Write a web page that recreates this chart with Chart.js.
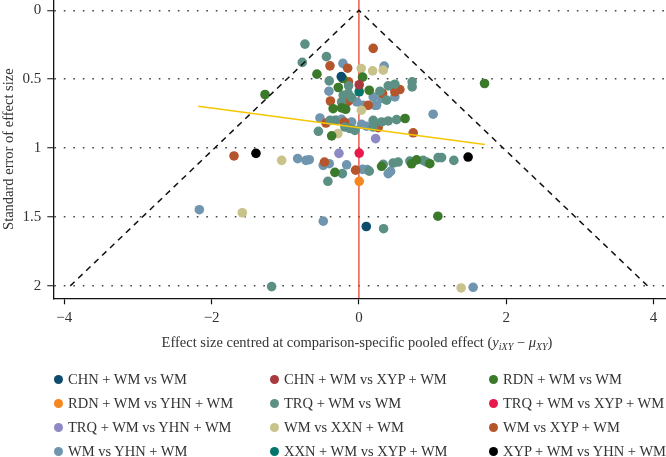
<!DOCTYPE html>
<html>
<head>
<meta charset="utf-8">
<script src="https://cdn.jsdelivr.net/npm/chart.js@4.4.0/dist/chart.umd.min.js"></script>
<style>
  body { margin: 0; background: #fff; }
  #wrap { position: relative; width: 666px; height: 457px; font-family: "Liberation Serif", "DejaVu Serif", serif; color: #333; }
  #xtitle { position: absolute; left: 357px; top: 333px; transform: translateX(-50%); white-space: nowrap; font-size: 14.5px; line-height: 18px; }
  #xtitle sub { font-size: 10px; vertical-align: -3px; }
  .lg { position: absolute; font-size: 14.5px; line-height: 18px; white-space: nowrap; }
  .lg span { display: inline-block; width: 9px; height: 9px; border-radius: 50%; margin-right: 5.5px; vertical-align: 0; }
</style>
</head>
<body>
<div id="wrap">
  <canvas id="funnel" width="666" height="457"></canvas>
  <div id="xtitle">Effect size centred at comparison-specific pooled effect (<i>y</i><sub><i>iXY</i></sub> − <i>μ</i><sub><i>XY</i></sub>)</div>
  <div id="legend"></div>
</div>
<script>
// Comparison-adjusted funnel plot

const xTicks = [-4, -2, 0, 2, 4];
const yTicks = [0, 0.5, 1, 1.5, 2];

const names = [
  'CHN + WM vs WM', 'CHN + WM vs XYP + WM', 'RDN + WM vs WM',
  'RDN + WM vs YHN + WM', 'TRQ + WM vs WM', 'TRQ + WM vs XYP + WM',
  'TRQ + WM vs YHN + WM', 'WM vs XXN + WM', 'WM vs XYP + WM',
  'WM vs YHN + WM', 'XXN + WM vs XYP + WM', 'XYP + WM vs YHN + WM'
];
const colors = [
  '#0e4c6e', '#a9393f', '#3b7a2a',
  '#f6861f', '#5d9085', '#e9194b',
  '#8d89c5', '#c9c28a', '#b5552c',
  '#6f96ae', '#02756c', '#000000'
];

// [centred effect size, standard error]
const chnWm    = [[-0.24, 0.481], [0.10, 1.569]];
const chnXyp   = [[0.004, 0.540]];
const rdnWm    = [[-0.57, 0.463], [-1.275, 0.611], [-0.22, 0.495], [0.05, 0.485], [-0.28, 0.560],
                  [0.14, 0.580], [-0.35, 0.714], [-0.235, 0.708], [-0.18, 0.718], [0.627, 0.785],
                  [-0.37, 0.911], [1.706, 0.531], [-0.326, 1.176], [0.308, 1.132], [0.715, 1.114],
                  [0.783, 1.085], [0.963, 1.113], [1.072, 1.494]];
const rdnYhn   = [[0.004, 1.241]];
const trqWm    = [[-0.733, 0.245], [-0.441, 0.336], [-0.769, 0.378], [-0.403, 0.512], [-0.14, 0.548],
                  [-0.145, 0.604], [-0.213, 0.616], [0.398, 0.548], [0.488, 0.536], [0.723, 0.519],
                  [0.723, 0.556], [0.285, 0.587], [0.376, 0.652], [-0.235, 0.665], [-0.099, 0.633],
                  [0.194, 0.798], [0.308, 0.810], [0.398, 0.803], [0.512, 0.793], [-0.19, 0.847],
                  [-0.122, 0.858], [-0.054, 0.871], [-0.393, 0.798], [-0.326, 0.798], [0.194, 0.847],
                  [-0.55, 0.878], [-0.224, 1.185], [-0.421, 1.241], [0.14, 1.167], [0.33, 1.118],
                  [0.465, 1.108], [0.533, 1.101], [0.692, 1.094], [0.872, 1.089], [0.919, 1.101],
                  [1.076, 1.069], [1.122, 1.069], [1.289, 1.089], [0.335, 1.585], [-1.185, 2.005]];
const trqXyp   = [[0.004, 1.036]];
const trqYhn   = [[0.227, 0.931], [-0.271, 1.038]];
const wmXxn    = [[0.031, 0.422], [0.186, 0.439], [0.33, 0.434], [0.034, 0.725], [-0.285, 0.895],
                  [-1.049, 1.089], [-1.583, 1.469], [1.388, 2.015]];
const wmXyp    = [[0.194, 0.276], [-0.393, 0.403], [-0.153, 0.420], [-0.142, 0.518], [0.556, 0.575],
                  [0.488, 0.591], [0.322, 0.604], [-0.387, 0.658], [-0.149, 0.663], [0.126, 0.689],
                  [-0.448, 0.818], [-0.197, 0.812], [0.262, 0.851], [0.737, 0.889], [-1.696, 1.057],
                  [-0.468, 1.101], [-0.045, 1.160]];
const wmYhn    = [[-0.217, 0.385], [0.343, 0.405], [-0.407, 0.587], [0.194, 0.628], [0.308, 0.640],
                  [0.488, 0.628], [0.217, 0.689], [-0.031, 0.665], [0.058, 0.689], [0.24, 0.689],
                  [1.008, 0.754], [-0.529, 0.781], [-0.235, 0.791], [-0.303, 0.798], [-0.099, 0.810],
                  [0.037, 0.827], [0.104, 0.841], [-0.832, 1.076], [-0.719, 1.089], [-0.674, 1.084],
                  [-0.484, 1.125], [-0.403, 1.113], [-0.167, 1.121], [0.05, 1.154], [0.113, 1.156],
                  [0.398, 1.185], [0.43, 1.169], [-2.167, 1.447], [-0.484, 1.530], [1.551, 2.010]];
const xxnXyp   = [[0.004, 0.591]];
const xypYhn   = [[-1.398, 1.038], [1.483, 1.065]];

const series = [chnWm, chnXyp, rdnWm, rdnYhn, trqWm, trqXyp, trqYhn, wmXxn, wmXyp, wmYhn, xxnXyp, xypYhn];

// reference lines
const funnelLine = [[-3.92, 2], [0, 0], [3.92, 2]];
const nullLine   = [[0, -0.075], [0, 2.09]];
const regLine    = [[-2.18, 0.696], [1.71, 0.973]];

const pts = a => a.map(p => ({ x: p[0], y: p[1] }));
const FONT = { family: 'Liberation Serif', size: 15 };

const datasets = series.map((s, i) => ({
  label: names[i], data: pts(s), type: 'scatter',
  backgroundColor: colors[i], borderWidth: 0, pointRadius: 4.8, pointHoverRadius: 4.8, order: 50
}));
datasets.push(
  { label: 'null', data: pts(nullLine), type: 'line', borderColor: '#e8412c', borderWidth: 1.3,
    pointRadius: 0, fill: false, order: 100 },
  { label: 'funnel', data: pts(funnelLine), type: 'line', borderColor: '#111', borderWidth: 1.5,
    borderDash: [6, 5], pointRadius: 0, fill: false, order: 0 },
  { label: 'reg', data: pts(regLine), type: 'line', borderColor: '#f7c600', borderWidth: 1.5,
    pointRadius: 0, fill: false, order: 0 }
);

const chart = new Chart(document.getElementById('funnel'), {
  type: 'scatter',
  data: { datasets },
  options: {
    responsive: false, animation: false,
    layout: { padding: 0, autoPadding: false },
    plugins: { legend: { display: false }, tooltip: { enabled: false } },
    scales: {
      x: {
        type: 'linear', min: -4.15, max: 4.17,
        afterBuildTicks: s => { s.ticks = xTicks.map(v => ({ value: v })); },
        afterFit: s => { s.height = 158.7; s.paddingLeft = 0; s.paddingRight = 0; },
        ticks: { font: FONT, color: '#333', padding: 5, maxRotation: 0,
                 callback: v => String(v).replace('-', '\u2212') },
        grid: { drawOnChartArea: false, drawTicks: true, tickLength: 6, tickColor: '#111', tickWidth: 1.2 },
        border: { color: '#111', width: 1.3 }
      },
      y: {
        type: 'linear', reverse: true, min: -0.075, max: 2.09,
        afterBuildTicks: s => { s.ticks = yTicks.map(v => ({ value: v })); },
        afterFit: s => { s.width = 53.3; s.paddingTop = 0; s.paddingBottom = 0; },
        ticks: { font: FONT, color: '#333', padding: 6, callback: v => String(v) },
        grid: { color: '#444', lineWidth: 1.5, drawTicks: true, tickLength: 6,
                tickColor: '#111', tickWidth: 1.2, tickBorderDash: [1, 0] },
        border: { color: '#111', width: 1.3, dash: [1.6, 7.9] },
        title: { display: true, text: 'Standard error of effect size', color: '#333',
                 font: { family: 'Liberation Serif', size: 14.5 }, padding: 0 }
      }
    }
  }
});

// legend, three columns
const colX = [58, 274, 493];
const rowY = [379, 403, 427, 451];
const lg = document.getElementById('legend');
chart.data.datasets.slice(0, names.length).forEach((d, i) => {
  const el = document.createElement('div');
  el.className = 'lg';
  el.style.left = (colX[i % 3] - 4.5) + 'px';
  el.style.top = (rowY[Math.floor(i / 3)] - 9) + 'px';
  el.innerHTML = '<span style="background:' + d.backgroundColor + '"></span>' + d.label;
  lg.appendChild(el);
});
</script>
</body>
</html>
